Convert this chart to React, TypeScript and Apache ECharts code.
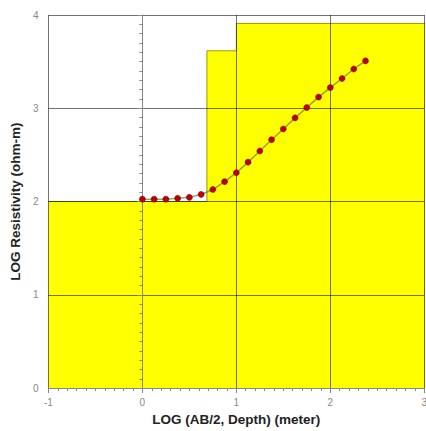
import React, { useEffect, useRef } from "react";
import * as echarts from "echarts";

// Apparent resistivity curve (log AB/2 vs log resistivity)
const curveX = [0, 0.125, 0.25, 0.375, 0.5, 0.625, 0.75, 0.875, 1.0, 1.125, 1.25, 1.375, 1.5, 1.625, 1.75, 1.875, 2.0, 2.125, 2.25, 2.375];
const curveY = [2.025, 2.025, 2.025, 2.035, 2.045, 2.076, 2.129, 2.213, 2.309, 2.422, 2.542, 2.663, 2.778, 2.897, 3.008, 3.12, 3.222, 3.319, 3.421, 3.508];

// Layered model (log depth of layer top, log resistivity)
const layerTop = [-1, 0.687, 1.0, 3.2];
const layerRes = [2.0, 3.616, 3.91, 3.91];

const xTitle = "LOG (AB/2, Depth) (meter)";
const yTitle = "LOG Resistivity (ohm-m)";

export default function App() {
  const ref = useRef<HTMLDivElement>(null);
  useEffect(() => {
    if (!ref.current) return;
    const chart = echarts.init(ref.current, undefined, { renderer: "svg" });
    const font = "'Liberation Sans', Arial, sans-serif";
    const axisCommon = {
      type: "value" as const,
      interval: 1,
      axisLine: { show: true, lineStyle: { color: "#888", width: 1 } },
      axisTick: { show: true, inside: false, length: 5, lineStyle: { color: "#888" } },
      minorTick: { show: true, splitNumber: 10, length: 3, lineStyle: { color: "#888" } },
      splitLine: { show: true, lineStyle: { color: "rgba(0,0,0,0.55)", width: 1 } },
      axisLabel: { color: "#888", fontSize: 10, fontFamily: font },
      nameLocation: "middle" as const,
      nameTextStyle: { color: "#222", fontSize: 13.5, fontWeight: "bold" as const, fontFamily: font },
    };
    chart.setOption({
      animation: false,
      backgroundColor: "#fff",
      grid: { left: 47, right: 0, top: 15, bottom: 34, containLabel: false },
      xAxis: {
        ...axisCommon,
        min: -1,
        max: 3,
        name: xTitle,
        nameGap: 18,
        axisLabel: { ...axisCommon.axisLabel, margin: 9 },
      },
      yAxis: {
        ...axisCommon,
        min: 0,
        max: 4,
        name: yTitle,
        nameGap: 20,
        axisLabel: { ...axisCommon.axisLabel, margin: 10 },
      },
      series: [
        {
          type: "line",
          z: -1,
          step: "end",
          symbol: "none",
          data: layerTop.map((x, i) => [x, layerRes[i]]),
          lineStyle: { color: "#999900", width: 1 },
          areaStyle: { color: "#ffff00", opacity: 1 },
        },
        {
          type: "line",
          z: 5,
          symbol: "circle",
          symbolSize: 6,
          data: curveX.map((x, i) => [x, curveY[i]]),
          lineStyle: { color: "rgba(90,90,90,0.6)", width: 1.5 },
          itemStyle: { color: "#c00000", borderColor: "#600000", borderWidth: 0.5 },
        },
      ],
    });
    return () => chart.dispose();
  }, []);
  return (
    <div
      style={{ position: "absolute", left: 0, top: 0, width: 426, height: 431, overflow: "hidden" }}
    >
      <div ref={ref} style={{ width: 430, height: 431 }} />
    </div>
  );
}
